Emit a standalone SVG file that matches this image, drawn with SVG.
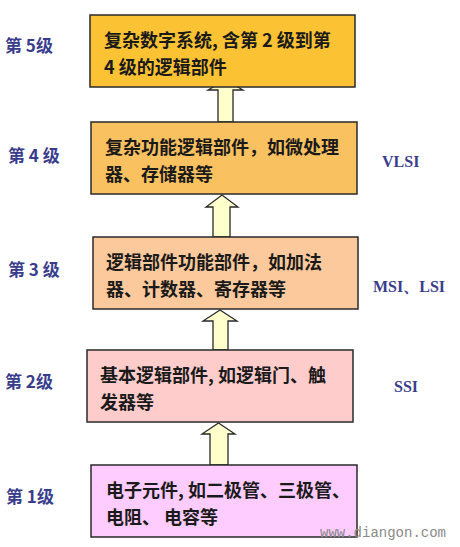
<svg xmlns="http://www.w3.org/2000/svg" width="460" height="547" viewBox="0 0 460 547">
<style>
.box{stroke:#2a2a2a;stroke-width:1.5}
.t{font-family:"Noto Sans CJK SC","Liberation Serif",serif;font-weight:bold;font-size:18px;fill:#1a1a1a}
.lv{font-family:"Noto Sans CJK SC","Liberation Serif",serif;font-weight:bold;font-size:17px;fill:#3a3d8c}
.ic{font-family:"Liberation Serif",serif;font-weight:bold;font-size:16px;fill:#3a3d8c}
.arr{fill:#ffffcc;stroke:#2a2a2a;stroke-width:1.3;stroke-linejoin:miter}
.wm{font-family:"Liberation Mono",monospace;font-size:14px;fill:#8a8a8a}
</style>
<rect width="460" height="547" fill="#ffffff"/>
<g id="connectors">
<polygon class="arr" points="218,122 218,90 208,90 225.5,80 243,90 233,90 233,122"/>
<polygon class="arr" points="213,237 213,207 206,207 222,195 238,207 230,207 230,237"/>
<polygon class="arr" points="213,350 213,321 203,321 220,310 237,321 228,321 228,350"/>
<polygon class="arr" points="210,465 210,434 202,434 218.5,423 235,434 228,434 228,465"/>
</g>
<g id="level5">
<text class="lv" x="5" y="52">第 5级</text>
<rect class="box" x="90" y="15" width="265" height="72" fill="#fbc234"/>
<text class="t" x="104" y="47">复杂数字系统, 含第 2 级到第</text>
<text class="t" x="104" y="74">4 级的逻辑部件</text>
</g>
<g id="level4">
<text class="lv" x="8" y="162">第 4 级</text>
<rect class="box" x="91" y="122" width="266" height="72" fill="#fac160"/>
<text class="t" x="105" y="154">复杂功能逻辑部件，如微处理</text>
<text class="t" x="105" y="181">器、存储器等</text>
<text class="ic" x="382" y="167">VLSI</text>
</g>
<g id="level3">
<text class="lv" x="8" y="276">第 3 级</text>
<rect class="box" x="93" y="237" width="265" height="72" fill="#fcc99c"/>
<text class="t" x="106" y="269">逻辑部件功能部件，如加法</text>
<text class="t" x="106" y="296">器、计数器、寄存器等</text>
<text class="ic" x="373" y="292">MSI、LSI</text>
</g>
<g id="level2">
<text class="lv" x="5" y="388">第 2级</text>
<rect class="box" x="87" y="350" width="266" height="72" fill="#ffcccc"/>
<text class="t" x="100" y="382">基本逻辑部件, 如逻辑门、触</text>
<text class="t" x="100" y="409">发器等</text>
<text class="ic" x="394" y="392">SSI</text>
</g>
<g id="level1">
<text class="lv" x="6" y="503">第 1级</text>
<rect class="box" x="91" y="465" width="266" height="72" fill="#ffccff"/>
<text class="t" x="106" y="497">电子元件, 如二极管、三极管、</text>
<text class="t" x="106" y="524">电阻、 电容等</text>
</g>
<text class="wm" x="320" y="537">www.diangon.com</text>
</svg>
